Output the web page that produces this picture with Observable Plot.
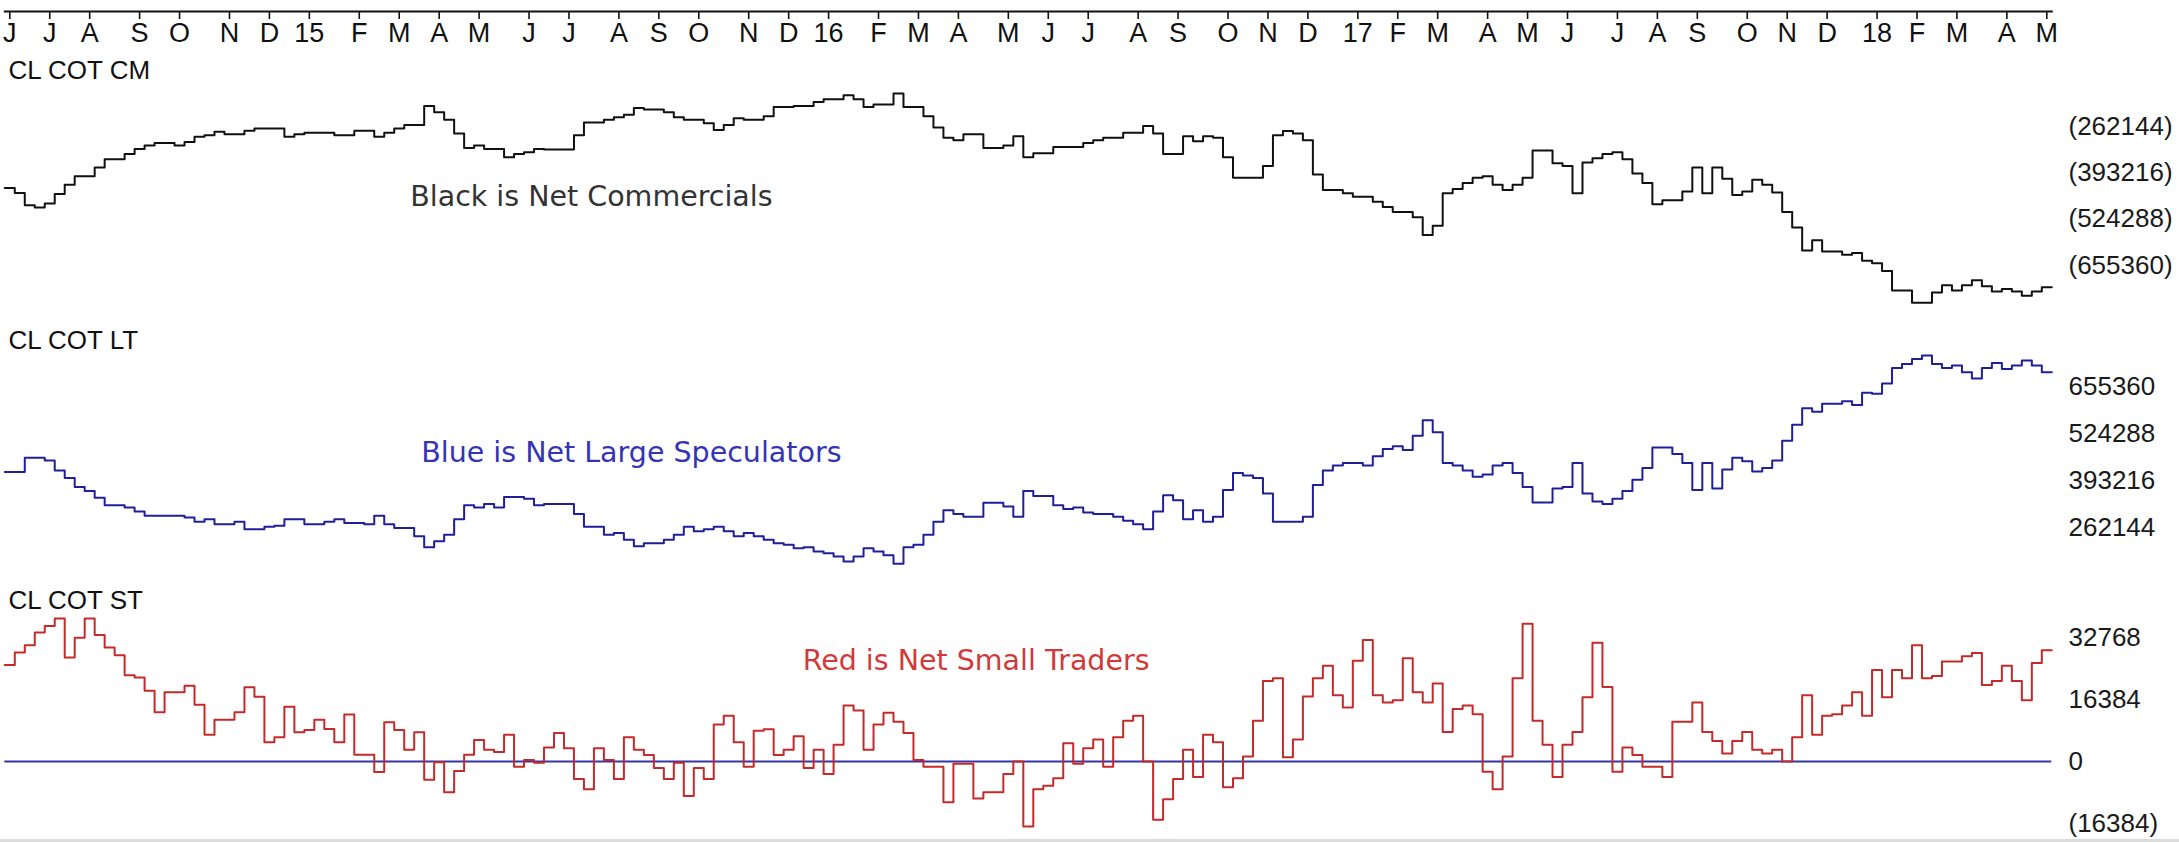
<!DOCTYPE html>
<html><head><meta charset="utf-8">
<script src="https://cdn.jsdelivr.net/npm/d3@7"></script>
<script src="https://cdn.jsdelivr.net/npm/@observablehq/plot@0.6"></script>
<style>
html,body{margin:0;padding:0;background:#fff;}
#chart{position:relative;width:2179px;height:843px;overflow:hidden;background:#fff;}
#chart svg{position:absolute;left:0;overflow:visible;background:transparent;}
#bottomline{position:absolute;left:0;top:839px;width:2179px;height:3px;background:#dcdcdc;}
</style></head><body><div id="chart"><div id="bottomline"></div></div>
<script>
// weekly COT (Fridays), thousands of contracts
const startDate = "2014-06-06";
const monthLabels = ["J","J","A","S","O","N","D","15","F","M","A","M","J","J","A","S","O","N","D","16","F","M","A","M","J","J","A","S","O","N","D","17","F","M","A","M","J","J","A","S","O","N","D","18","F","M","A","M"];

const netCommercials = [-436,-450,-485,-491,-480,-453,-427,-403,-403,-378,
 -355,-355,-340,-326,-316,-309,-309,-316,-306,-291,
 -287,-277,-284,-284,-274,-268,-268,-268,-291,-284,
 -280,-280,-280,-287,-287,-274,-274,-291,-280,-268,
 -258,-258,-204,-222,-243,-282,-323,-316,-326,-326,
 -349,-340,-335,-326,-327,-327,-327,-287,-251,-251,
 -243,-236,-229,-210,-214,-214,-222,-236,-243,-243,
 -253,-272,-258,-239,-243,-243,-233,-207,-207,-204,
 -204,-193,-185,-185,-174,-185,-207,-200,-200,-169,
 -207,-207,-233,-265,-294,-301,-284,-284,-323,-323,
 -316,-290,-349,-338,-338,-320,-320,-320,-309,-301,
 -294,-294,-280,-280,-261,-282,-340,-340,-290,-304,
 -290,-294,-349,-407,-407,-407,-374,-287,-275,-282,
 -301,-398,-442,-442,-451,-461,-461,-475,-490,-504,
 -504,-519,-569,-543,-451,-439,-422,-407,-403,-427,
 -442,-427,-407,-330,-330,-366,-374,-451,-364,-352,
 -340,-335,-355,-395,-422,-482,-471,-471,-446,-378,
 -451,-378,-410,-456,-446,-413,-427,-449,-504,-548,
 -613,-584,-616,-616,-625,-620,-642,-649,-671,-726,
 -726,-761,-761,-732,-711,-726,-711,-697,-714,-729,
 -722,-729,-741,-729,-717];

const netLargeSpeculators = [417,417,457,457,449,421,400,375,364,345,
 324,324,318,307,295,295,295,295,290,278,
 285,271,271,278,257,257,264,267,285,285,
 271,271,278,285,275,275,271,295,271,261,
 261,238,207,224,242,285,324,318,328,318,
 347,347,342,324,328,328,328,300,264,264,
 242,247,228,210,218,218,228,242,264,252,
 257,264,252,238,247,238,228,218,214,204,
 207,195,190,181,167,181,204,195,185,161,
 207,214,242,278,310,300,292,292,331,331,
 321,292,364,350,350,324,314,318,304,300,
 300,292,281,271,257,307,352,338,285,310,
 278,292,367,414,407,400,357,278,278,278,
 292,381,421,435,442,442,435,461,481,489,
 478,518,561,528,442,435,421,404,410,435,
 442,414,375,332,332,371,375,442,357,335,
 328,342,364,395,428,485,485,467,442,367,
 442,371,424,457,447,418,428,449,504,549,
 595,585,607,607,614,604,638,635,664,707,
 718,732,742,718,707,714,695,678,707,721,
 704,714,728,714,695];

const netSmallTraders = [25.5,28.8,30.7,34.1,35.8,37.8,27.5,32.7,37.8,33.4,
 30.1,28.1,22.8,22.2,18.7,13.0,18.3,18.3,20.0,15.0,
 7.1,11.0,11.0,13.0,19.6,17.1,5.1,6.4,14.5,7.7,
 8.3,11.0,8.6,5.1,12.4,1.8,1.8,-2.8,10.4,8.3,
 3.1,7.7,-4.8,-0.2,-8.1,-2.5,1.8,5.7,3.1,2.5,
 7.1,-1.4,0.4,-0.3,3.7,7.5,3.5,-4.6,-7.3,3.5,
 0.4,-4.6,6.4,3.1,1.7,-1.7,-4.6,-0.3,-9.1,-1.7,
 -4.6,9.8,12.1,5.1,-1.4,8.1,8.5,1.7,3.1,6.7,
 -1.7,3.1,-3.3,4.4,14.8,13.5,3.1,9.8,12.9,10.5,
 7.5,0.4,-1.4,-1.4,-10.8,-0.6,-0.6,-9.8,-8.1,-8.1,
 -3.3,0.0,-17.2,-7.3,-6.4,-4.4,4.8,-0.6,3.5,5.8,
 -1.4,6.4,10.8,12.1,0.0,-15.4,-10.0,-4.6,3.1,-4.1,
 7.1,5.1,-6.8,-4.4,1.3,10.8,21.3,22.0,1.1,5.8,
 17.2,22.0,25.3,17.5,14.3,26.6,32.1,17.5,15.6,16.2,
 27.3,18.3,15.6,20.6,7.8,13.9,14.8,12.5,-2.7,-7.3,
 1.3,22.0,36.4,10.8,4.4,-4.1,4.4,7.8,17.0,31.4,
 19.7,-2.7,3.7,1.7,-1.4,-1.4,-4.1,10.5,10.5,15.6,
 7.8,5.4,2.1,5.4,7.8,3.1,2.1,3.1,0.0,6.4,
 17.5,7.1,12.1,12.5,14.8,18.3,12.1,24.2,17.0,24.2,
 22.0,30.7,22.0,22.6,26.4,26.4,27.8,28.7,20.2,21.3,
 25.3,21.3,16.2,26.0,29.4];

const cmTicks = [-262.144, -393.216, -524.288, -655.36];
const ltTicks = [655.36, 524.288, 393.216, 262.144];
const stTicks = [32.768, 16.384, 0, -16.384];

const N = netCommercials.length;
const dates = d3.range(N).map(i => d3.utcDay.offset(new Date(startDate + "T00:00:00Z"), 7 * i));
const tickIdx = d3.range(N).filter(i => i === 0 || dates[i].getUTCMonth() !== dates[i - 1].getUTCMonth());
const labelOf = new Map(tickIdx.map((t, k) => [t, monthLabels[k]]));

const W = 2179;
const X0 = 4.3, X1 = 2051.3, LABX = 2068;
const xScale = () => ({type: "linear", domain: [-0.5, N - 0.5], range: [X0, X1], axis: null});
const steps = values => {
  const pts = values.map((v, i) => ({x: i - 0.5, y: v}));
  pts.push({x: N - 0.5, y: values[N - 1]});
  return pts;
};
const sans = "'Liberation Sans', Arial, sans-serif";
const narrow = "'Liberation Sans Narrow', 'Arial Narrow', 'Liberation Sans', Arial, sans-serif";
const verd = "'DejaVu Sans', Verdana, sans-serif";
const chart = document.getElementById("chart");
function place(svg, top) { svg.style.top = top + "px"; chart.appendChild(svg); }

// top time axis
place(Plot.plot({
  width: W, height: 60, marginTop: 0, marginBottom: 49, marginLeft: X0, marginRight: W - X1,
  style: {fontFamily: narrow, fontSize: "27px", color: "#111", background: "transparent", overflow: "visible"},
  x: xScale(),
  marks: [
    Plot.frame({anchor: "bottom", stroke: "#111", strokeWidth: 2}),
    Plot.axisX(tickIdx, {anchor: "bottom", tickSize: 8, tickPadding: 3, strokeWidth: 1.6, stroke: "#111", fill: "#111",
      tickFormat: d => labelOf.get(d), fontSize: 27, fontFamily: narrow, label: null})
  ]
}), 0);

// Net commercials panel
place(Plot.plot({
  width: W, height: 320, marginTop: 0, marginBottom: 0, marginLeft: 0, marginRight: W - LABX,
  style: {fontFamily: sans, fontSize: "26px", color: "#111", background: "transparent", overflow: "visible"},
  x: xScale(),
  y: {domain: [-262.144, -655.36], range: [126, 265], axis: null},
  marks: [
    Plot.axisY(cmTicks, {anchor: "right", tickSize: 0, tickPadding: 0, textAnchor: "start", fill: "#1a1a1a",
      tickFormat: v => `(${Math.round(-v * 1000)})`, fontSize: 26, fontFamily: sans, label: null}),
    Plot.line(steps(netCommercials), {x: "x", y: "y", curve: "step-after", stroke: "#101010", strokeWidth: 2}),
    Plot.text(["CL COT CM"], {frameAnchor: "top-left", dx: 8, dy: 78, lineAnchor: "bottom", textAnchor: "start", fontSize: 26, fontFamily: sans, fill: "#111"}),
    Plot.text(["Black is Net Commercials"], {x: () => 40.1, y: () => -485.8, lineAnchor: "bottom", textAnchor: "start", fontSize: 28.5, fontFamily: verd, fill: "#333"})
  ]
}), 0);

// Net large speculators panel
place(Plot.plot({
  width: W, height: 270, marginTop: 0, marginBottom: 0, marginLeft: 0, marginRight: W - LABX,
  style: {fontFamily: sans, fontSize: "26px", color: "#111", background: "transparent", overflow: "visible"},
  x: xScale(),
  y: {domain: [655.36, 262.144], range: [66, 207], axis: null},
  marks: [
    Plot.axisY(ltTicks, {anchor: "right", tickSize: 0, tickPadding: 0, textAnchor: "start", fill: "#1a1a1a",
      tickFormat: v => `${Math.round(v * 1000)}`, fontSize: 26, fontFamily: sans, label: null}),
    Plot.line(steps(netLargeSpeculators), {x: "x", y: "y", curve: "step-after", stroke: "#1f1f9a", strokeWidth: 2}),
    Plot.text(["CL COT LT"], {frameAnchor: "top-left", dx: 8, dy: 28, lineAnchor: "bottom", textAnchor: "start", fontSize: 26, fontFamily: sans, fill: "#111"}),
    Plot.text(["Blue is Net Large Speculators"], {x: () => 41.2, y: () => 446.2, lineAnchor: "bottom", textAnchor: "start", fontSize: 28.5, fontFamily: verd, fill: "#3434b4"})
  ]
}), 320);

// Net small traders panel
place(Plot.plot({
  width: W, height: 263, marginTop: 0, marginBottom: 0, marginLeft: 0, marginRight: W - LABX,
  style: {fontFamily: sans, fontSize: "26px", color: "#111", background: "transparent", overflow: "visible"},
  x: xScale(),
  y: {domain: [32.768, -16.384], range: [57, 243], axis: null},
  marks: [
    Plot.axisY(stTicks, {anchor: "right", tickSize: 0, tickPadding: 0, textAnchor: "start", fill: "#1a1a1a",
      tickFormat: v => v < 0 ? `(${Math.round(-v * 1000)})` : `${Math.round(v * 1000)}`, fontSize: 26, fontFamily: sans, label: null}),
    Plot.ruleY([0], {x1: -0.5, x2: N - 0.5, stroke: "#3434a8", strokeWidth: 2}),
    Plot.line(steps(netSmallTraders), {x: "x", y: "y", curve: "step-after", stroke: "#c42a2a", strokeWidth: 2}),
    Plot.text(["CL COT ST"], {frameAnchor: "top-left", dx: 8, dy: 28, lineAnchor: "bottom", textAnchor: "start", fontSize: 26, fontFamily: sans, fill: "#111"}),
    Plot.text(["Red is Net Small Traders"], {x: () => 79.4, y: () => 24.2, lineAnchor: "bottom", textAnchor: "start", fontSize: 28.5, fontFamily: verd, fill: "#d03a3a"})
  ]
}), 580);
</script></body></html>
